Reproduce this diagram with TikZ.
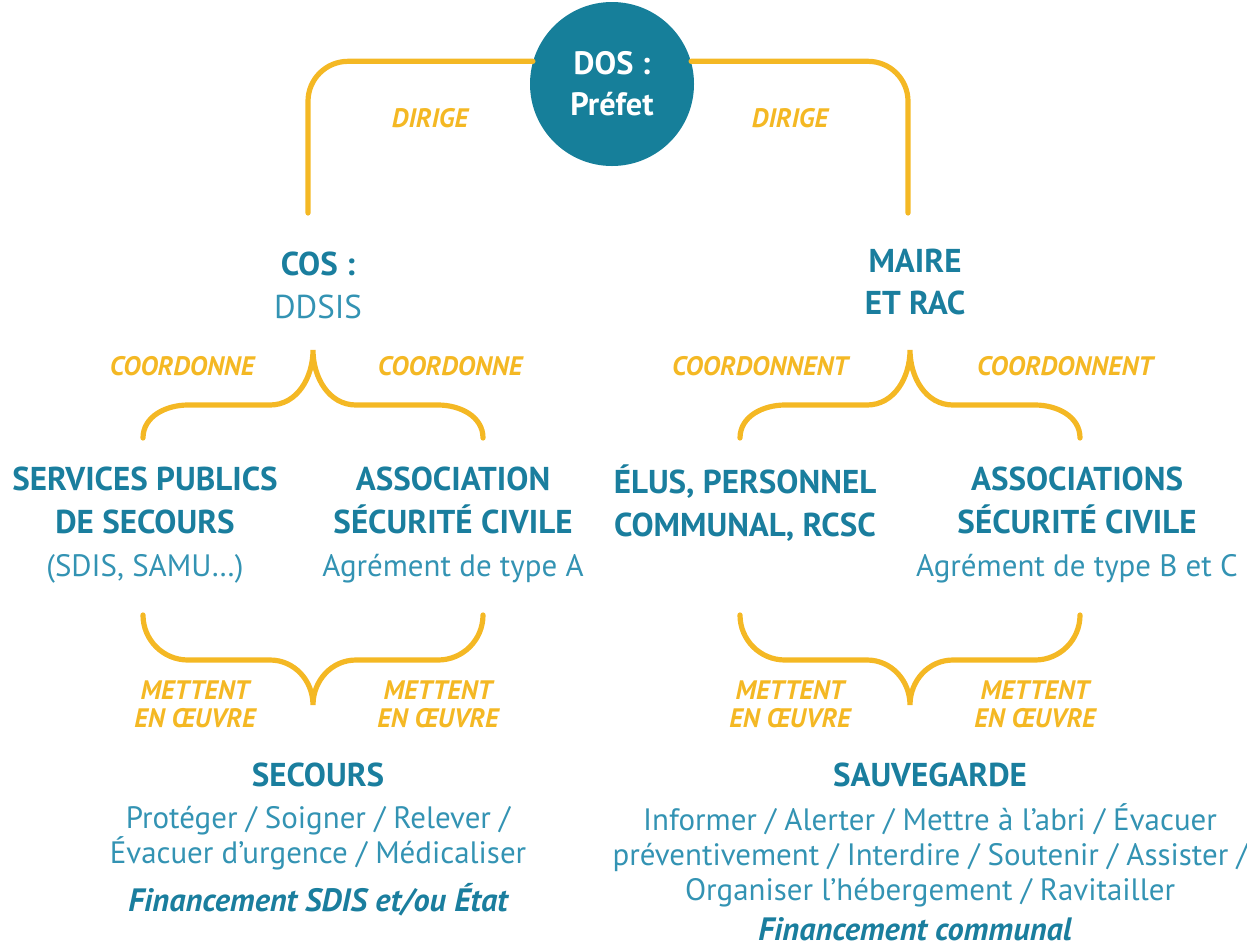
\documentclass[tikz,border=0pt]{standalone}
\usepackage{fontspec}
\setmainfont{PT Sans}
\definecolor{bleu}{HTML}{1A7E9E}
\definecolor{bleuclair}{HTML}{3393B3}
\definecolor{jaune}{HTML}{F4B824}
\definecolor{rond}{HTML}{167F9A}
\begin{document}
\begin{tikzpicture}[x=0.25mm,y=-0.25mm]
	\tikzset{hd/.style={text=bleu, font=\fontsize{23.5}{30.5}\selectfont\bfseries, align=center},
		tx/.style={text=bleuclair, font=\fontsize{22}{25}\selectfont, align=center},
		fin/.style={text=bleu, font=\fontsize{23}{26}\selectfont\bfseries\itshape},
		vb/.style={text=jaune, font=\fontsize{19}{20}\selectfont\bfseries\itshape, align=center},
		ln/.style={draw=jaune, line width=1.3mm, line cap=round}};
	\useasboundingbox (0,0) rectangle (1247,947);

	\node[circle, fill=rond, minimum size=41mm, text=white, font=\fontsize{23}{29}\selectfont\bfseries, align=center] (dos) at (612,84) {DOS :\\Préfet};
	\node[hd] (cos) at (318,285) {COS :\\{\mdseries\color{bleuclair}DDSIS}};
	\node[hd] (maire) at (915,282) {MAIRE\\ET RAC};

	\node[hd] (spub) at (145,525) {SERVICES PUBLICS\\DE SECOURS\\{\fontsize{22}{30.5}\selectfont\mdseries\color{bleuclair}(SDIS, SAMU…)}};
	\node[hd] (asc) at (453,525) {ASSOCIATION\\SÉCURITÉ CIVILE\\{\fontsize{22}{30.5}\selectfont\mdseries\color{bleuclair}Agrément de type A}};
	\node[hd] (elus) at (745,503) {ÉLUS, PERSONNEL\\COMMUNAL, RCSC};
	\node[hd] (ascs) at (1077,525) {ASSOCIATIONS\\SÉCURITÉ CIVILE\\{\fontsize{22}{30.5}\selectfont\mdseries\color{bleuclair}Agrément de type B et C}};

	\node[hd] (sec) at (318,775) {SECOURS};
	\node[tx] (secact) at (318,838) {Protéger / Soigner / Relever /\\Évacuer d’urgence / Médicaliser};
	\node[fin] (secfin) at (318,900) {Financement SDIS et/ou État};
	\node[hd] (sauv) at (930,775) {SAUVEGARDE};
	\node[tx] (sauvact) at (930,855) {Informer / Alerter / Mettre à l’abri / Évacuer\\préventivement / Interdire / Soutenir / Assister /\\Organiser l’hébergement / Ravitailler};
	\node[fin] (sauvfin) at (915,929) {Financement communal};

	% liens du DOS
	\coordinate (cl) at (308,213);
	\coordinate (cr) at (908,213);
	\draw[ln, rounded corners=10mm] (dos.164) -| (cl);
	\draw[ln, rounded corners=10mm] (dos.16) -| (cr);
	\node[vb] (dir1) at (430,118) {DIRIGE};
	\node[vb] (dir2) at (790,118) {DIRIGE};

	% accolades
	\foreach \x in {313,910} {
		\draw[ln] (\x-170,438) to[out=90,in=180] (\x-125,405) -- (\x-43,405) to[out=0,in=-90] (\x,350)
			to[out=-90,in=180] (\x+43,405) -- (\x+125,405) to[out=0,in=90] (\x+170,438);
		\draw[ln] (\x-170,615) to[out=-90,in=180] (\x-125,660) -- (\x-43,660) to[out=0,in=90] (\x,705)
			to[out=90,in=180] (\x+43,660) -- (\x+125,660) to[out=0,in=-90] (\x+170,615);
	}
	\node[vb] (co1) at (182,366) {COORDONNE};
	\node[vb] (co2) at (450,366) {COORDONNE};
	\node[vb] (co3) at (760,366) {COORDONNENT};
	\node[vb] (co4) at (1065,366) {COORDONNENT};
	\node[vb] (mo1) at (195,704) {METTENT\\EN ŒUVRE};
	\node[vb] (mo2) at (438,704) {METTENT\\EN ŒUVRE};
	\node[vb] (mo3) at (790,704) {METTENT\\EN ŒUVRE};
	\node[vb] (mo4) at (1035,704) {METTENT\\EN ŒUVRE};
\end{tikzpicture}
\end{document}
